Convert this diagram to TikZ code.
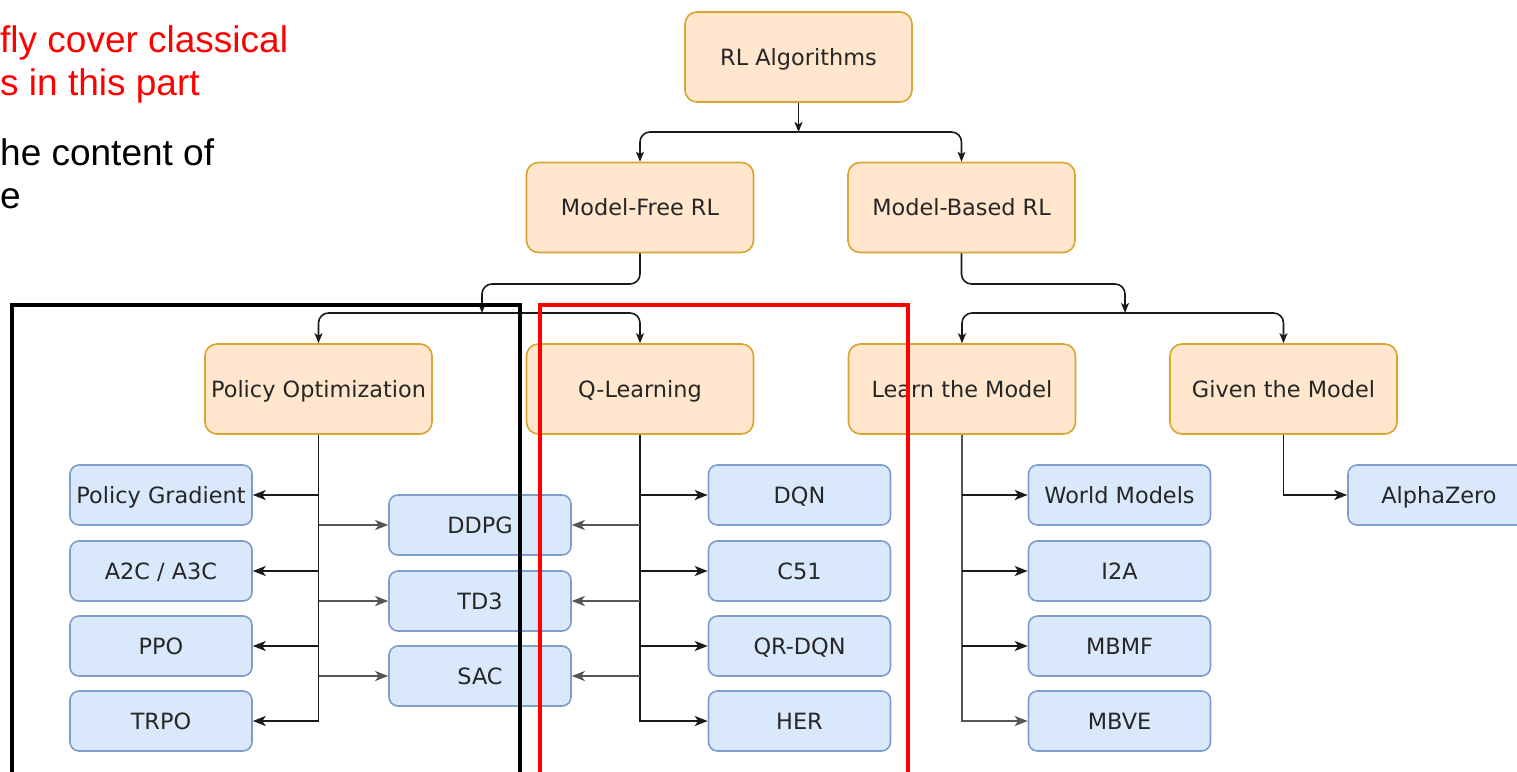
\documentclass[tikz,border=0pt]{standalone}
\usepackage{fontspec}
\usepackage{tikz}
\usetikzlibrary{arrows.meta}
\newfontfamily\boxfont{DejaVu Sans}
\newfontfamily\notefont{Liberation Sans}
\definecolor{grpfill}{HTML}{FFE6CC}
\definecolor{grpline}{HTML}{D9A431}
\definecolor{algfill}{HTML}{DAE8FC}
\definecolor{algline}{HTML}{7E9DCB}
\definecolor{darkline}{HTML}{1A1A1A}
\definecolor{greyline}{HTML}{555555}
\newcommand{\grpw}{227pt}
\newcommand{\grph}{90pt}
\newcommand{\algw}{182pt}
\newcommand{\algh}{60pt}

\begin{document}
\begin{tikzpicture}[x=1pt, y=-1pt]
            \tikzset{grp/.style = {draw=grpline, fill=grpfill, line width=1.6pt, rounded corners=12pt,
                         minimum width=\grpw, minimum height=\grph, inner sep=2pt,
                         text height=16.5pt, text depth=0pt,
                         font=\boxfont\fontsize{22.4}{27}\selectfont, text=black!85}}
            \tikzset{alg/.style = {grp, draw=algline, fill=algfill, rounded corners=9pt,
                         minimum width=\algw, minimum height=\algh}}
            \tikzset{tree/.style = {draw=darkline, line width=1.6pt, rounded corners=10pt,
                         -{Stealth[length=10pt, width=8pt, inset=2.5pt]}}}
            \tikzset{leaf/.style = {draw=darkline, line width=1.8pt,
                         -{Stealth[length=13pt, width=10pt, inset=3.5pt]}}}
            \tikzset{leafg/.style = {leaf, draw=greyline}}
            \tikzset{note/.style = {anchor=base west, inner sep=0pt,
                         font=\notefont\fontsize{37}{43}\selectfont}}
            \tikzset{frame/.style = {line width=4pt}}
            \useasboundingbox (0,0) rectangle (1517,771);
            \clip (0,0) rectangle (1517,771);
            % notes
            \node[note, text=red] (note1) at (0,52) {fly cover classical};
            \node[note, text=red] (note2) at (0,95) {s in this part};
            \node[note] (note3) at (0,165) {he content of};
            \node[note] (note4) at (0,208) {e};
            % families
            \node[grp] (rl) at (798.5,57) {RL Algorithms};
            \node[grp] (mf) at (640,207.5) {Model-Free RL};
            \node[grp] (mb) at (961.5,207.5) {Model-Based RL};
            \node[grp] (po) at (318.5,389) {Policy Optimization};
            \node[grp] (ql) at (640,389) {Q-Learning};
            \node[grp] (lm) at (962,389) {Learn the Model};
            \node[grp] (gm) at (1283.5,389) {Given the Model};
            % algorithms
            \node[alg] (pg) at (161,495) {Policy Gradient};
            \node[alg] (a2c) at (161,571) {A2C / A3C};
            \node[alg] (ppo) at (161,646) {PPO};
            \node[alg] (trpo) at (161,721) {TRPO};
            \node[alg] (ddpg) at (480,525) {DDPG};
            \node[alg] (td3) at (480,601) {TD3};
            \node[alg] (sac) at (480,676) {SAC};
            \node[alg] (dqn) at (799.5,495) {DQN};
            \node[alg] (c51) at (799.5,571) {C51};
            \node[alg] (qrdqn) at (799.5,646) {QR-DQN};
            \node[alg] (her) at (799.5,721) {HER};
            \node[alg] (wm) at (1119.5,495) {World Models};
            \node[alg] (i2a) at (1119.5,571) {I2A};
            \node[alg] (mbmf) at (1119.5,646) {MBMF};
            \node[alg] (mbve) at (1119.5,721) {MBVE};
            \node[alg] (az) at (1439,495) {AlphaZero};
            % junctions
            \coordinate (j1) at (798.5,132);
            \coordinate (k1) at (482,284);
            \coordinate (j2) at (482,313);
            \coordinate (k2) at (1125,284);
            \coordinate (j3) at (1125,313);
            \draw[tree] (rl) -- (j1);
            \draw[tree] (j1) -| (mf);
            \draw[tree] (j1) -| (mb);
            \draw[tree] (mf) |- (k1) -- (j2);
            \draw[tree] (j2) -| (po);
            \draw[tree] (j2) -| (ql);
            \draw[tree] (mb) |- (k2) -- (j3);
            \draw[tree] (j3) -| (lm);
            \draw[tree] (j3) -| (gm);
            % leaves
            \draw[leaf] (po) |- (trpo);
            \foreach \n in {pg,a2c,ppo}
                \draw[leaf] (po.south |- \n) -- (\n);
            \foreach \n in {ddpg,td3,sac}
                \draw[leafg] (po.south |- \n) -- (\n);
            \draw[leaf] (ql) |- (her);
            \foreach \n in {dqn,c51,qrdqn}
                \draw[leaf] (ql.south |- \n) -- (\n);
            \foreach \n in {ddpg,td3,sac}
                \draw[leafg] (ql.south |- \n) -- (\n);
            \draw[leafg] (lm) |- (mbve);
            \foreach \n in {wm,i2a,mbmf}
                \draw[leaf] (lm.south |- \n) -- (\n);
            \draw[leaf] (gm) |- (az);
            % frames
            \draw[frame] (12,305) rectangle (520,800);
            \draw[frame, red] (540,305) rectangle (908,800);
        \end{tikzpicture}
\end{document}
